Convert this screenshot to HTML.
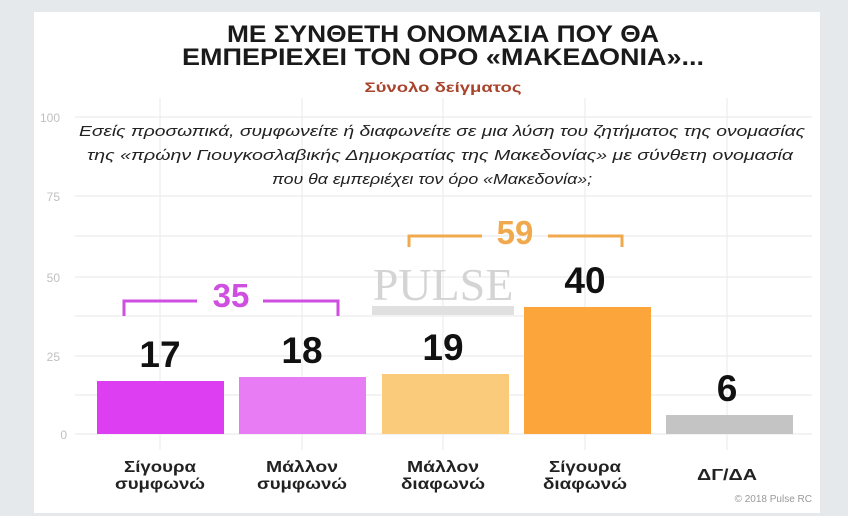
<!DOCTYPE html>
<html><head><meta charset="utf-8"><style>
html,body{margin:0;padding:0;}
body{width:848px;height:516px;background:#e6e9ec;position:relative;overflow:hidden;font-family:"Liberation Sans",Arial,sans-serif;}
</style></head><body>
<svg width="848" height="516" style="position:absolute;left:0;top:0" font-family="Liberation Sans, Arial, sans-serif">
<rect x="34" y="12" width="786" height="501" fill="#fff"/>
<g stroke="#ececec" stroke-width="1.2">
<line x1="75" y1="117" x2="812" y2="117"/>
<line x1="75" y1="196" x2="812" y2="196"/>
<line x1="75" y1="277" x2="812" y2="277"/>
<line x1="75" y1="356" x2="812" y2="356"/>
<line x1="75" y1="395" x2="812" y2="395"/>
<line x1="75" y1="316" x2="812" y2="316"/>
<line x1="75" y1="236" x2="812" y2="236"/>
<line x1="75" y1="434" x2="812" y2="434"/>
<line x1="160" y1="98" x2="160" y2="450"/>
<line x1="302" y1="98" x2="302" y2="450"/>
<line x1="443" y1="98" x2="443" y2="450"/>
<line x1="585" y1="98" x2="585" y2="450"/>
<line x1="727" y1="98" x2="727" y2="450"/>
</g>
<g fill="#c0c0c0" font-size="12" text-anchor="end">
<text x="60" y="122">100</text><text x="60" y="201">75</text><text x="60" y="282">50</text><text x="60" y="361">25</text><text x="67" y="439">0</text>
</g>
<text x="443" y="42" text-anchor="middle" font-size="24" font-weight="bold" fill="#1a1a1a" textLength="432" lengthAdjust="spacingAndGlyphs">ΜΕ ΣΥΝΘΕΤΗ ΟΝΟΜΑΣΙΑ ΠΟΥ ΘΑ</text>
<text x="443" y="65" text-anchor="middle" font-size="24" font-weight="bold" fill="#1a1a1a" textLength="522" lengthAdjust="spacingAndGlyphs">ΕΜΠΕΡΙΕΧΕΙ ΤΟΝ ΟΡΟ «ΜΑΚΕΔΟΝΙΑ»...</text>
<text x="443" y="92" text-anchor="middle" font-size="14" font-weight="bold" fill="#a8442c" textLength="157" lengthAdjust="spacingAndGlyphs">Σύνολο δείγματος</text>
<g font-size="15" font-style="italic" fill="#222" text-anchor="middle">
<text x="442" y="136" textLength="726" lengthAdjust="spacingAndGlyphs">Εσείς προσωπικά, συμφωνείτε ή διαφωνείτε σε μια λύση του ζητήματος της ονομασίας</text>
<text x="440" y="160" textLength="706" lengthAdjust="spacingAndGlyphs">της «πρώην Γιουγκοσλαβικής Δημοκρατίας της Μακεδονίας» με σύνθετη ονομασία</text>
<text x="432" y="184" textLength="320" lengthAdjust="spacingAndGlyphs">που θα εμπεριέχει τον όρο «Μακεδονία»;</text>
</g>
<text x="443" y="300" text-anchor="middle" font-size="46" font-family="Liberation Serif, serif" fill="#d4d4d4">PULSE</text>
<rect x="372" y="306" width="142" height="9" fill="#e0e0e0"/>
<rect x="97" y="381" width="127" height="53" fill="#dd3ef2"/>
<rect x="239" y="377" width="127" height="57" fill="#e77cf5"/>
<rect x="382" y="374" width="127" height="60" fill="#fbcb7c"/>
<rect x="524" y="307" width="127" height="127" fill="#fba53a"/>
<rect x="666" y="415" width="127" height="19" fill="#c4c4c4"/>
<g font-size="37" font-weight="bold" fill="#111" text-anchor="middle">
<text x="160" y="367">17</text><text x="302" y="363">18</text><text x="443" y="360">19</text><text x="585" y="293">40</text><text x="727" y="401">6</text>
</g>
<g fill="none" stroke-width="3">
<path d="M124 316 V301 H197 M263 301 H338 V316" stroke="#cf4fe0"/>
<path d="M409 247 V236 H482 M548 236 H622 V247" stroke="#f0a94c"/>
</g>
<text x="231" y="307" text-anchor="middle" font-size="33" font-weight="bold" fill="#cf4fe0">35</text>
<text x="515" y="244" text-anchor="middle" font-size="33" font-weight="bold" fill="#f0a94c">59</text>
<g font-size="16" font-weight="bold" fill="#222" text-anchor="middle">
<text x="160" y="472" textLength="72" lengthAdjust="spacingAndGlyphs">Σίγουρα</text><text x="160" y="489" textLength="90" lengthAdjust="spacingAndGlyphs">συμφωνώ</text>
<text x="302" y="472" textLength="72" lengthAdjust="spacingAndGlyphs">Μάλλον</text><text x="302" y="489" textLength="90" lengthAdjust="spacingAndGlyphs">συμφωνώ</text>
<text x="443" y="472" textLength="72" lengthAdjust="spacingAndGlyphs">Μάλλον</text><text x="443" y="489" textLength="84" lengthAdjust="spacingAndGlyphs">διαφωνώ</text>
<text x="585" y="472" textLength="72" lengthAdjust="spacingAndGlyphs">Σίγουρα</text><text x="585" y="489" textLength="84" lengthAdjust="spacingAndGlyphs">διαφωνώ</text>
<text x="727" y="480" textLength="60" lengthAdjust="spacingAndGlyphs">ΔΓ/ΔΑ</text>
</g>
<text x="812" y="502" text-anchor="end" font-size="10" fill="#999">© 2018 Pulse RC</text>
</svg>
</body></html>
